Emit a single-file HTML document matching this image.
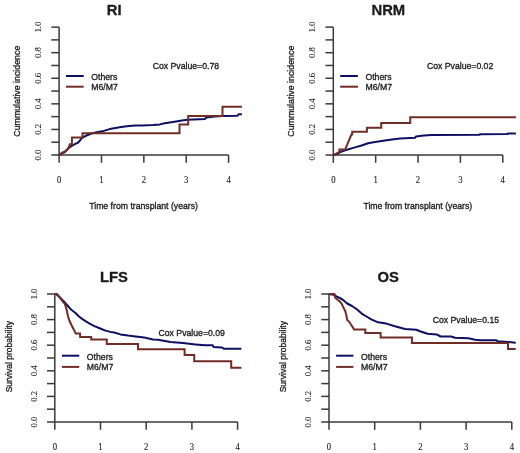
<!DOCTYPE html>
<html><head><meta charset="utf-8"><style>
html,body{margin:0;padding:0;background:#fff;}
body{width:520px;height:453px;overflow:hidden;}
svg{display:block;will-change:transform;filter:blur(0.35px);}
text{fill:#1a1a1a;stroke:#1a1a1a;stroke-width:0.3px;}
text.s{stroke-width:0.1px;}
</style></head><body>
<svg width="520" height="453" viewBox="0 0 520 453">
<rect width="520" height="453" fill="#fff"/>
<g stroke="#3a3a3a" stroke-width="1.5" fill="none"><path d="M59.1,27.1 V162.8" /><path d="M51.30,155.00 H59.10" /><path d="M51.30,142.21 H59.10" /><path d="M51.30,129.42 H59.10" /><path d="M51.30,116.63 H59.10" /><path d="M51.30,103.84 H59.10" /><path d="M51.30,91.05 H59.10" /><path d="M51.30,78.26 H59.10" /><path d="M51.30,65.47 H59.10" /><path d="M51.30,52.68 H59.10" /><path d="M51.30,39.89 H59.10" /><path d="M51.30,27.10 H59.10" /><path d="M59.1,155 H228.58" /><path d="M101.47,155 V162.8" /><path d="M143.84,155 V162.8" /><path d="M186.21,155 V162.8" /><path d="M228.58,155 V162.8" /></g>
<text class="s" transform="translate(41.00,155.00) rotate(-90) scale(1,1.0)" x="0" y="0" text-anchor="middle" font-family='"Liberation Serif", serif' font-size="8.7" font-weight="normal">0.0</text>
<text class="s" transform="translate(41.00,129.42) rotate(-90) scale(1,1.0)" x="0" y="0" text-anchor="middle" font-family='"Liberation Serif", serif' font-size="8.7" font-weight="normal">0.2</text>
<text class="s" transform="translate(41.00,103.84) rotate(-90) scale(1,1.0)" x="0" y="0" text-anchor="middle" font-family='"Liberation Serif", serif' font-size="8.7" font-weight="normal">0.4</text>
<text class="s" transform="translate(41.00,78.26) rotate(-90) scale(1,1.0)" x="0" y="0" text-anchor="middle" font-family='"Liberation Serif", serif' font-size="8.7" font-weight="normal">0.6</text>
<text class="s" transform="translate(41.00,52.68) rotate(-90) scale(1,1.0)" x="0" y="0" text-anchor="middle" font-family='"Liberation Serif", serif' font-size="8.7" font-weight="normal">0.8</text>
<text class="s" transform="translate(41.00,27.10) rotate(-90) scale(1,1.0)" x="0" y="0" text-anchor="middle" font-family='"Liberation Serif", serif' font-size="8.7" font-weight="normal">1.0</text>
<text class="s" transform="translate(59.10,183.10) scale(1,1.13)" x="0" y="0" text-anchor="middle" font-family='"Liberation Serif", serif' font-size="8.7" font-weight="normal">0</text>
<text class="s" transform="translate(101.47,183.10) scale(1,1.13)" x="0" y="0" text-anchor="middle" font-family='"Liberation Serif", serif' font-size="8.7" font-weight="normal">1</text>
<text class="s" transform="translate(143.84,183.10) scale(1,1.13)" x="0" y="0" text-anchor="middle" font-family='"Liberation Serif", serif' font-size="8.7" font-weight="normal">2</text>
<text class="s" transform="translate(186.21,183.10) scale(1,1.13)" x="0" y="0" text-anchor="middle" font-family='"Liberation Serif", serif' font-size="8.7" font-weight="normal">3</text>
<text class="s" transform="translate(228.58,183.10) scale(1,1.13)" x="0" y="0" text-anchor="middle" font-family='"Liberation Serif", serif' font-size="8.7" font-weight="normal">4</text>
<text transform="translate(114.10,15.30) scale(1,1.0)" x="0" y="0" text-anchor="middle" font-family='"Liberation Sans", sans-serif' font-size="14.8" font-weight="bold">RI</text>
<text transform="translate(19.80,91.20) rotate(-90) scale(1,1.0)" x="0" y="0" text-anchor="middle" font-family='"Liberation Sans", sans-serif' font-size="8.8" font-weight="normal">Cummulative incidence</text>
<text transform="translate(143.60,209.30) scale(1,1.13)" x="0" y="0" text-anchor="middle" font-family='"Liberation Sans", sans-serif' font-size="8.7" font-weight="normal">Time from transplant (years)</text>
<path d="M66,76 H83.7" stroke="#0e0e62" stroke-width="2" />
<path d="M66,86.7 H83.7" stroke="#702c26" stroke-width="2" />
<text transform="translate(91.25,79.60) scale(1,1.13)" x="0" y="0" text-anchor="start" font-family='"Liberation Sans", sans-serif' font-size="8.7" font-weight="normal">Others</text>
<text transform="translate(91.25,89.90) scale(1,1.13)" x="0" y="0" text-anchor="start" font-family='"Liberation Sans", sans-serif' font-size="8.7" font-weight="normal">M6/M7</text>
<text transform="translate(152.70,69.10) scale(1,1.13)" x="0" y="0" text-anchor="start" font-family='"Liberation Sans", sans-serif' font-size="8.7" font-weight="normal">Cox Pvalue=0.78</text>
<polyline points="59.10,155.00 62.70,152.90 65.90,150.80 68.90,147.90 71.90,145.80 74.90,144.00 77.80,142.80 79.60,141.00 81.90,137.90 86.50,135.50 92.30,133.30 98.10,131.90 103.80,130.90 109.60,129.10 115.40,128.00 121.20,127.10 126.90,126.30 135.00,125.50 141.50,125.50 153.10,125.00 160.00,124.40 164.60,123.30 176.20,121.50 181.90,120.60 187.70,119.70 205.00,118.90 206.25,117.40 215.00,116.60 222.50,116.10 237.50,115.70 238.50,114.20 241.90,114.20" fill="none" stroke="#0e0e62" stroke-width="2" stroke-linejoin="round" />
<polyline points="59.10,155.00 62.40,152.60 64.50,152.60 68.60,147.90 69.20,146.10 69.80,144.30 71.90,144.30 71.90,137.40 82.50,137.40 82.50,133.20 179.50,133.20 179.50,124.40 188.20,124.40 188.20,116.00 222.50,116.00 222.50,106.70 241.90,106.70" fill="none" stroke="#702c26" stroke-width="2" stroke-linejoin="miter" />
<g stroke="#3a3a3a" stroke-width="1.5" fill="none"><path d="M333.3,27.1 V162.8" /><path d="M325.50,155.00 H333.30" /><path d="M325.50,142.21 H333.30" /><path d="M325.50,129.42 H333.30" /><path d="M325.50,116.63 H333.30" /><path d="M325.50,103.84 H333.30" /><path d="M325.50,91.05 H333.30" /><path d="M325.50,78.26 H333.30" /><path d="M325.50,65.47 H333.30" /><path d="M325.50,52.68 H333.30" /><path d="M325.50,39.89 H333.30" /><path d="M325.50,27.10 H333.30" /><path d="M333.3,155 H502.78" /><path d="M375.67,155 V162.8" /><path d="M418.04,155 V162.8" /><path d="M460.41,155 V162.8" /><path d="M502.78,155 V162.8" /></g>
<text class="s" transform="translate(315.20,155.00) rotate(-90) scale(1,1.0)" x="0" y="0" text-anchor="middle" font-family='"Liberation Serif", serif' font-size="8.7" font-weight="normal">0.0</text>
<text class="s" transform="translate(315.20,129.42) rotate(-90) scale(1,1.0)" x="0" y="0" text-anchor="middle" font-family='"Liberation Serif", serif' font-size="8.7" font-weight="normal">0.2</text>
<text class="s" transform="translate(315.20,103.84) rotate(-90) scale(1,1.0)" x="0" y="0" text-anchor="middle" font-family='"Liberation Serif", serif' font-size="8.7" font-weight="normal">0.4</text>
<text class="s" transform="translate(315.20,78.26) rotate(-90) scale(1,1.0)" x="0" y="0" text-anchor="middle" font-family='"Liberation Serif", serif' font-size="8.7" font-weight="normal">0.6</text>
<text class="s" transform="translate(315.20,52.68) rotate(-90) scale(1,1.0)" x="0" y="0" text-anchor="middle" font-family='"Liberation Serif", serif' font-size="8.7" font-weight="normal">0.8</text>
<text class="s" transform="translate(315.20,27.10) rotate(-90) scale(1,1.0)" x="0" y="0" text-anchor="middle" font-family='"Liberation Serif", serif' font-size="8.7" font-weight="normal">1.0</text>
<text class="s" transform="translate(333.30,183.10) scale(1,1.13)" x="0" y="0" text-anchor="middle" font-family='"Liberation Serif", serif' font-size="8.7" font-weight="normal">0</text>
<text class="s" transform="translate(375.67,183.10) scale(1,1.13)" x="0" y="0" text-anchor="middle" font-family='"Liberation Serif", serif' font-size="8.7" font-weight="normal">1</text>
<text class="s" transform="translate(418.04,183.10) scale(1,1.13)" x="0" y="0" text-anchor="middle" font-family='"Liberation Serif", serif' font-size="8.7" font-weight="normal">2</text>
<text class="s" transform="translate(460.41,183.10) scale(1,1.13)" x="0" y="0" text-anchor="middle" font-family='"Liberation Serif", serif' font-size="8.7" font-weight="normal">3</text>
<text class="s" transform="translate(502.78,183.10) scale(1,1.13)" x="0" y="0" text-anchor="middle" font-family='"Liberation Serif", serif' font-size="8.7" font-weight="normal">4</text>
<text transform="translate(388.30,15.30) scale(1,1.0)" x="0" y="0" text-anchor="middle" font-family='"Liberation Sans", sans-serif' font-size="14.8" font-weight="bold">NRM</text>
<text transform="translate(294.00,91.20) rotate(-90) scale(1,1.0)" x="0" y="0" text-anchor="middle" font-family='"Liberation Sans", sans-serif' font-size="8.8" font-weight="normal">Cummulative incidence</text>
<text transform="translate(417.80,209.30) scale(1,1.13)" x="0" y="0" text-anchor="middle" font-family='"Liberation Sans", sans-serif' font-size="8.7" font-weight="normal">Time from transplant (years)</text>
<path d="M340.2,76 H357.9" stroke="#0e0e62" stroke-width="2" />
<path d="M340.2,86.7 H357.9" stroke="#702c26" stroke-width="2" />
<text transform="translate(365.45,79.60) scale(1,1.13)" x="0" y="0" text-anchor="start" font-family='"Liberation Sans", sans-serif' font-size="8.7" font-weight="normal">Others</text>
<text transform="translate(365.45,89.90) scale(1,1.13)" x="0" y="0" text-anchor="start" font-family='"Liberation Sans", sans-serif' font-size="8.7" font-weight="normal">M6/M7</text>
<text transform="translate(426.90,69.10) scale(1,1.13)" x="0" y="0" text-anchor="start" font-family='"Liberation Sans", sans-serif' font-size="8.7" font-weight="normal">Cox Pvalue=0.02</text>
<polyline points="333.30,155.00 336.00,154.30 338.90,153.00 341.20,151.70 344.50,150.60 346.10,150.00 349.60,149.00 353.20,147.90 356.00,147.10 361.60,145.50 368.10,143.30 375.00,141.90 390.00,139.80 400.00,138.50 415.00,137.80 416.00,136.40 423.75,135.40 431.90,135.10 479.50,134.70 480.00,134.20 507.30,134.10 507.60,133.40 515.90,133.40" fill="none" stroke="#0e0e62" stroke-width="2" stroke-linejoin="round" />
<polyline points="333.30,155.00 335.00,154.50 336.50,153.50 338.00,152.50 339.40,151.80 339.40,149.60 345.10,149.60 351.40,134.50 352.20,134.50 352.20,131.80 366.90,131.80 366.90,127.80 381.25,127.80 381.25,122.90 410.25,122.90 410.25,117.30 515.90,117.30" fill="none" stroke="#702c26" stroke-width="2" stroke-linejoin="miter" />
<g stroke="#3a3a3a" stroke-width="1.5" fill="none"><path d="M54.8,294 V429.8" /><path d="M47.00,422.00 H54.80" /><path d="M47.00,409.20 H54.80" /><path d="M47.00,396.40 H54.80" /><path d="M47.00,383.60 H54.80" /><path d="M47.00,370.80 H54.80" /><path d="M47.00,358.00 H54.80" /><path d="M47.00,345.20 H54.80" /><path d="M47.00,332.40 H54.80" /><path d="M47.00,319.60 H54.80" /><path d="M47.00,306.80 H54.80" /><path d="M47.00,294.00 H54.80" /><path d="M54.8,422 H237.60" /><path d="M100.50,422 V429.8" /><path d="M146.20,422 V429.8" /><path d="M191.90,422 V429.8" /><path d="M237.60,422 V429.8" /></g>
<text class="s" transform="translate(37.00,422.00) rotate(-90) scale(1,1.0)" x="0" y="0" text-anchor="middle" font-family='"Liberation Serif", serif' font-size="8.7" font-weight="normal">0.0</text>
<text class="s" transform="translate(37.00,396.40) rotate(-90) scale(1,1.0)" x="0" y="0" text-anchor="middle" font-family='"Liberation Serif", serif' font-size="8.7" font-weight="normal">0.2</text>
<text class="s" transform="translate(37.00,370.80) rotate(-90) scale(1,1.0)" x="0" y="0" text-anchor="middle" font-family='"Liberation Serif", serif' font-size="8.7" font-weight="normal">0.4</text>
<text class="s" transform="translate(37.00,345.20) rotate(-90) scale(1,1.0)" x="0" y="0" text-anchor="middle" font-family='"Liberation Serif", serif' font-size="8.7" font-weight="normal">0.6</text>
<text class="s" transform="translate(37.00,319.60) rotate(-90) scale(1,1.0)" x="0" y="0" text-anchor="middle" font-family='"Liberation Serif", serif' font-size="8.7" font-weight="normal">0.8</text>
<text class="s" transform="translate(37.00,294.00) rotate(-90) scale(1,1.0)" x="0" y="0" text-anchor="middle" font-family='"Liberation Serif", serif' font-size="8.7" font-weight="normal">1.0</text>
<text class="s" transform="translate(54.80,449.70) scale(1,1.13)" x="0" y="0" text-anchor="middle" font-family='"Liberation Serif", serif' font-size="8.7" font-weight="normal">0</text>
<text class="s" transform="translate(100.50,449.70) scale(1,1.13)" x="0" y="0" text-anchor="middle" font-family='"Liberation Serif", serif' font-size="8.7" font-weight="normal">1</text>
<text class="s" transform="translate(146.20,449.70) scale(1,1.13)" x="0" y="0" text-anchor="middle" font-family='"Liberation Serif", serif' font-size="8.7" font-weight="normal">2</text>
<text class="s" transform="translate(191.90,449.70) scale(1,1.13)" x="0" y="0" text-anchor="middle" font-family='"Liberation Serif", serif' font-size="8.7" font-weight="normal">3</text>
<text class="s" transform="translate(237.60,449.70) scale(1,1.13)" x="0" y="0" text-anchor="middle" font-family='"Liberation Serif", serif' font-size="8.7" font-weight="normal">4</text>
<text transform="translate(113.90,281.80) scale(1,1.0)" x="0" y="0" text-anchor="middle" font-family='"Liberation Sans", sans-serif' font-size="14.8" font-weight="bold">LFS</text>
<text transform="translate(11.70,356.70) rotate(-90) scale(1,1.0)" x="0" y="0" text-anchor="middle" font-family='"Liberation Sans", sans-serif' font-size="8.5" font-weight="normal">Survival probability</text>
<path d="M61.9,355.7 H79.2" stroke="#0e0e62" stroke-width="2" />
<path d="M61.9,366.9 H79.2" stroke="#702c26" stroke-width="2" />
<text transform="translate(86.80,359.70) scale(1,1.13)" x="0" y="0" text-anchor="start" font-family='"Liberation Sans", sans-serif' font-size="8.7" font-weight="normal">Others</text>
<text transform="translate(86.80,370.00) scale(1,1.13)" x="0" y="0" text-anchor="start" font-family='"Liberation Sans", sans-serif' font-size="8.7" font-weight="normal">M6/M7</text>
<text transform="translate(158.50,336.15) scale(1,1.13)" x="0" y="0" text-anchor="start" font-family='"Liberation Sans", sans-serif' font-size="8.7" font-weight="normal">Cox Pvalue=0.09</text>
<polyline points="54.80,294.10 55.90,294.10 59.80,297.30 63.60,301.10 67.50,305.50 71.30,309.80 75.20,312.70 79.00,316.50 82.80,319.40 86.70,321.80 90.50,324.20 94.40,326.10 100.20,328.50 105.50,330.60 110.50,331.90 114.25,332.50 120.50,334.40 128.00,335.60 135.50,336.50 144.25,337.50 153.00,339.40 158.00,339.80 170.50,341.90 183.00,343.10 195.50,344.40 205.00,345.20 212.70,345.30 213.50,346.90 221.60,347.40 224.30,348.80 241.40,348.80" fill="none" stroke="#0e0e62" stroke-width="2" stroke-linejoin="round" />
<polyline points="54.80,294.10 57.00,294.10 60.70,298.70 62.70,301.60 64.60,303.50 66.00,307.40 67.00,311.20 67.90,316.00 69.40,320.80 71.30,324.70 73.20,328.50 74.70,331.40 75.70,333.60 80.10,333.60 80.10,336.90 91.20,336.90 91.20,339.60 106.75,339.60 106.75,344.10 138.00,344.10 138.00,349.30 184.60,349.30 184.60,355.10 194.25,355.10 194.25,361.30 231.20,361.30 231.20,367.70 241.40,367.70" fill="none" stroke="#702c26" stroke-width="2" stroke-linejoin="miter" />
<g stroke="#3a3a3a" stroke-width="1.5" fill="none"><path d="M329.0,294 V429.8" /><path d="M321.20,422.00 H329.00" /><path d="M321.20,409.20 H329.00" /><path d="M321.20,396.40 H329.00" /><path d="M321.20,383.60 H329.00" /><path d="M321.20,370.80 H329.00" /><path d="M321.20,358.00 H329.00" /><path d="M321.20,345.20 H329.00" /><path d="M321.20,332.40 H329.00" /><path d="M321.20,319.60 H329.00" /><path d="M321.20,306.80 H329.00" /><path d="M321.20,294.00 H329.00" /><path d="M329.0,422 H511.80" /><path d="M374.70,422 V429.8" /><path d="M420.40,422 V429.8" /><path d="M466.10,422 V429.8" /><path d="M511.80,422 V429.8" /></g>
<text class="s" transform="translate(311.20,422.00) rotate(-90) scale(1,1.0)" x="0" y="0" text-anchor="middle" font-family='"Liberation Serif", serif' font-size="8.7" font-weight="normal">0.0</text>
<text class="s" transform="translate(311.20,396.40) rotate(-90) scale(1,1.0)" x="0" y="0" text-anchor="middle" font-family='"Liberation Serif", serif' font-size="8.7" font-weight="normal">0.2</text>
<text class="s" transform="translate(311.20,370.80) rotate(-90) scale(1,1.0)" x="0" y="0" text-anchor="middle" font-family='"Liberation Serif", serif' font-size="8.7" font-weight="normal">0.4</text>
<text class="s" transform="translate(311.20,345.20) rotate(-90) scale(1,1.0)" x="0" y="0" text-anchor="middle" font-family='"Liberation Serif", serif' font-size="8.7" font-weight="normal">0.6</text>
<text class="s" transform="translate(311.20,319.60) rotate(-90) scale(1,1.0)" x="0" y="0" text-anchor="middle" font-family='"Liberation Serif", serif' font-size="8.7" font-weight="normal">0.8</text>
<text class="s" transform="translate(311.20,294.00) rotate(-90) scale(1,1.0)" x="0" y="0" text-anchor="middle" font-family='"Liberation Serif", serif' font-size="8.7" font-weight="normal">1.0</text>
<text class="s" transform="translate(329.00,449.70) scale(1,1.13)" x="0" y="0" text-anchor="middle" font-family='"Liberation Serif", serif' font-size="8.7" font-weight="normal">0</text>
<text class="s" transform="translate(374.70,449.70) scale(1,1.13)" x="0" y="0" text-anchor="middle" font-family='"Liberation Serif", serif' font-size="8.7" font-weight="normal">1</text>
<text class="s" transform="translate(420.40,449.70) scale(1,1.13)" x="0" y="0" text-anchor="middle" font-family='"Liberation Serif", serif' font-size="8.7" font-weight="normal">2</text>
<text class="s" transform="translate(466.10,449.70) scale(1,1.13)" x="0" y="0" text-anchor="middle" font-family='"Liberation Serif", serif' font-size="8.7" font-weight="normal">3</text>
<text class="s" transform="translate(511.80,449.70) scale(1,1.13)" x="0" y="0" text-anchor="middle" font-family='"Liberation Serif", serif' font-size="8.7" font-weight="normal">4</text>
<text transform="translate(388.10,281.80) scale(1,1.0)" x="0" y="0" text-anchor="middle" font-family='"Liberation Sans", sans-serif' font-size="14.8" font-weight="bold">OS</text>
<text transform="translate(285.90,356.70) rotate(-90) scale(1,1.0)" x="0" y="0" text-anchor="middle" font-family='"Liberation Sans", sans-serif' font-size="8.5" font-weight="normal">Survival probability</text>
<path d="M336.09999999999997,355.7 H353.4" stroke="#0e0e62" stroke-width="2" />
<path d="M336.09999999999997,366.9 H353.4" stroke="#702c26" stroke-width="2" />
<text transform="translate(361.00,359.70) scale(1,1.13)" x="0" y="0" text-anchor="start" font-family='"Liberation Sans", sans-serif' font-size="8.7" font-weight="normal">Others</text>
<text transform="translate(361.00,370.00) scale(1,1.13)" x="0" y="0" text-anchor="start" font-family='"Liberation Sans", sans-serif' font-size="8.7" font-weight="normal">M6/M7</text>
<text transform="translate(432.70,323.20) scale(1,1.13)" x="0" y="0" text-anchor="start" font-family='"Liberation Sans", sans-serif' font-size="8.7" font-weight="normal">Cox Pvalue=0.15</text>
<polyline points="328.80,294.10 334.70,294.90 336.70,296.80 340.50,298.30 343.40,300.20 347.20,303.50 352.00,306.00 356.80,309.30 361.70,313.60 366.50,316.50 371.30,319.40 378.00,322.30 386.25,323.60 395.00,326.30 405.00,329.00 416.25,329.80 420.00,331.30 427.50,333.80 436.70,334.40 440.60,336.50 451.20,336.50 455.00,337.80 468.50,338.30 475.20,339.70 480.00,340.20 496.00,340.20 497.90,341.30 508.50,342.10 515.70,342.80" fill="none" stroke="#0e0e62" stroke-width="2" stroke-linejoin="round" />
<polyline points="328.80,294.10 334.25,294.10 335.20,297.80 337.60,299.70 339.50,301.10 341.50,303.50 343.40,307.40 345.30,311.20 346.30,315.10 347.20,319.90 349.20,321.80 351.10,324.70 353.00,327.60 354.00,329.60 365.30,329.60 365.30,333.00 380.60,333.00 380.60,337.40 411.90,337.40 411.90,342.90 508.00,342.90 508.00,349.10 515.70,349.10" fill="none" stroke="#702c26" stroke-width="2" stroke-linejoin="miter" />
</svg>
</body></html>
